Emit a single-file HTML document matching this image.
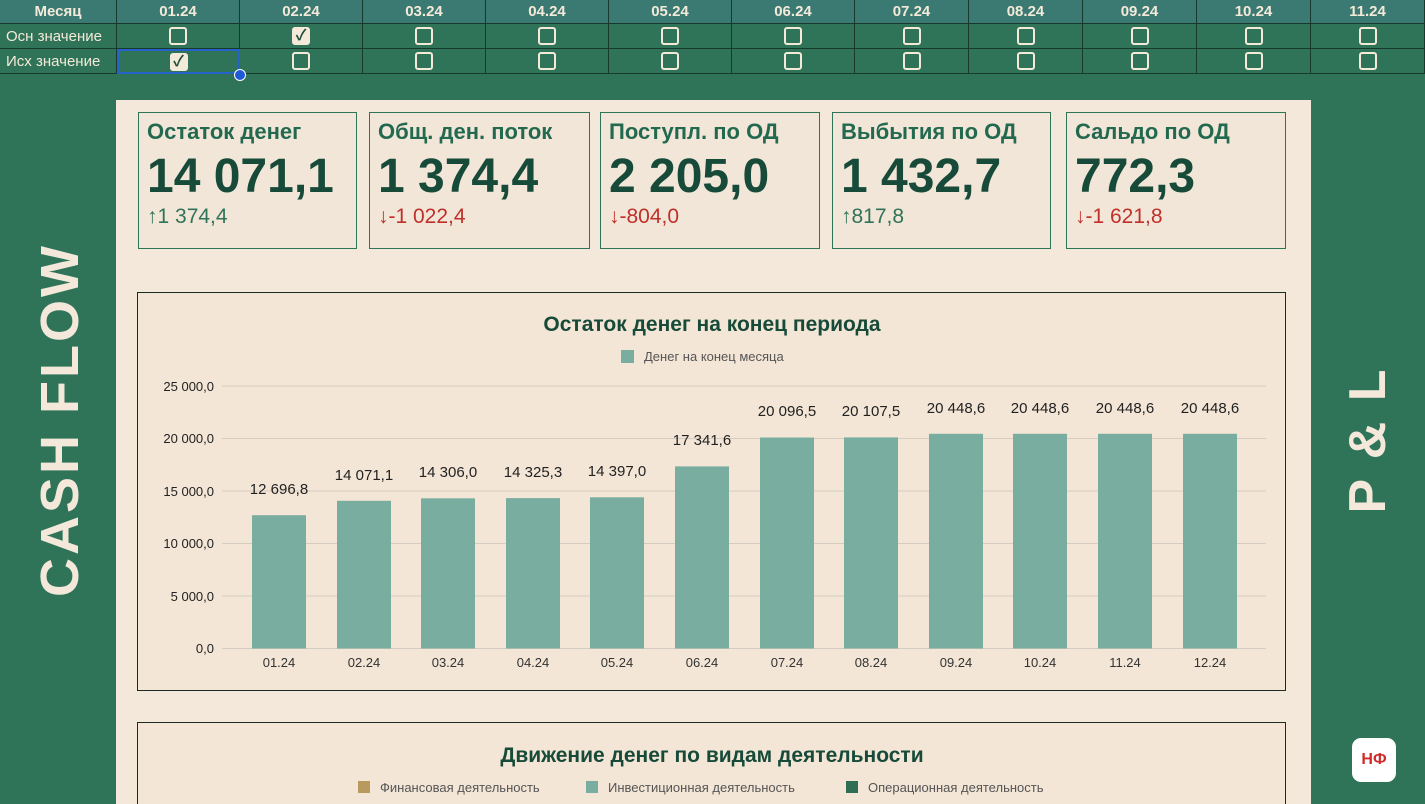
<!DOCTYPE html>
<html style="overflow:hidden"><head><meta charset="utf-8"><style>
*{margin:0;padding:0;box-sizing:border-box}
html,body{width:1425px;height:804px;overflow:hidden}
body{background:#2f7358;font-family:"Liberation Sans","Noto Sans CJK SC",sans-serif;position:relative}
.a{position:absolute}
.hdr{top:0;height:24px;background:#3b7a73;color:#f3ead9;font-weight:bold;font-size:15px;text-align:center;line-height:24px;border-right:1.5px solid #173a2c;border-bottom:1.5px solid #173a2c}
.cell{height:25px;border-right:1.5px solid #173a2c;border-bottom:1.5px solid #173a2c;color:#f3ead9;font-size:15px;line-height:25px}
.cb{position:absolute;left:50%;top:50%;width:18px;height:18px;margin:-9px 0 0 -9px;border:2px solid #f3ead9;border-radius:3px}
.cb.on{background:#f3ead9;color:#1f4a38;font-size:15px;line-height:14px;text-align:center;font-weight:bold}
.panel{left:116px;top:100px;width:1195px;height:704px;background:#f4e8da}
.card{border:1.5px solid #2f7358;background:#f2e6d8}
.card .t{position:absolute;left:8px;top:6px;font-size:22px;font-weight:bold;color:#22694f;white-space:nowrap}
.card .v{position:absolute;left:8px;top:36px;font-size:48px;font-weight:bold;color:#174a39;white-space:nowrap}
.card .d{position:absolute;left:8px;top:92px;font-size:21px;white-space:nowrap}
.up{color:#2f7358}.dn{color:#c0302a}
.box{border:1.5px solid #1c2a24;background:#f3e6d6}
</style></head><body>
<div class="a hdr" style="left:0;width:117px">Месяц</div>
<div class="a hdr" style="left:117px;width:123px">01.24</div>
<div class="a hdr" style="left:240px;width:123px">02.24</div>
<div class="a hdr" style="left:363px;width:123px">03.24</div>
<div class="a hdr" style="left:486px;width:123px">04.24</div>
<div class="a hdr" style="left:609px;width:123px">05.24</div>
<div class="a hdr" style="left:732px;width:123px">06.24</div>
<div class="a hdr" style="left:855px;width:114px">07.24</div>
<div class="a hdr" style="left:969px;width:114px">08.24</div>
<div class="a hdr" style="left:1083px;width:114px">09.24</div>
<div class="a hdr" style="left:1197px;width:114px">10.24</div>
<div class="a hdr" style="left:1311px;width:114px">11.24</div>

<div class="a cell" style="left:0;top:24px;width:117px;padding-left:6px">Осн значение</div>
<div class="a cell" style="left:0;top:49px;width:117px;padding-left:6px">Исх значение</div>

<div class="a cell" style="left:117px;top:24px;width:123px"><div class="cb"></div></div>
<div class="a cell" style="left:240px;top:24px;width:123px"><div class="cb on">✓</div></div>
<div class="a cell" style="left:363px;top:24px;width:123px"><div class="cb"></div></div>
<div class="a cell" style="left:486px;top:24px;width:123px"><div class="cb"></div></div>
<div class="a cell" style="left:609px;top:24px;width:123px"><div class="cb"></div></div>
<div class="a cell" style="left:732px;top:24px;width:123px"><div class="cb"></div></div>
<div class="a cell" style="left:855px;top:24px;width:114px"><div class="cb"></div></div>
<div class="a cell" style="left:969px;top:24px;width:114px"><div class="cb"></div></div>
<div class="a cell" style="left:1083px;top:24px;width:114px"><div class="cb"></div></div>
<div class="a cell" style="left:1197px;top:24px;width:114px"><div class="cb"></div></div>
<div class="a cell" style="left:1311px;top:24px;width:114px"><div class="cb"></div></div>

<div class="a cell" style="left:117px;top:49px;width:123px;border:2px solid #2563c9"><div class="cb on">✓</div></div>
<div class="a cell" style="left:240px;top:49px;width:123px"><div class="cb"></div></div>
<div class="a cell" style="left:363px;top:49px;width:123px"><div class="cb"></div></div>
<div class="a cell" style="left:486px;top:49px;width:123px"><div class="cb"></div></div>
<div class="a cell" style="left:609px;top:49px;width:123px"><div class="cb"></div></div>
<div class="a cell" style="left:732px;top:49px;width:123px"><div class="cb"></div></div>
<div class="a cell" style="left:855px;top:49px;width:114px"><div class="cb"></div></div>
<div class="a cell" style="left:969px;top:49px;width:114px"><div class="cb"></div></div>
<div class="a cell" style="left:1083px;top:49px;width:114px"><div class="cb"></div></div>
<div class="a cell" style="left:1197px;top:49px;width:114px"><div class="cb"></div></div>
<div class="a cell" style="left:1311px;top:49px;width:114px"><div class="cb"></div></div>
<div class="a" style="left:234px;top:69px;width:12px;height:12px;border-radius:50%;background:#1f5ad6;border:1.5px solid #fff"></div>

<div class="a" style="left:60px;top:420px;transform:translate(-50%,-50%) rotate(-90deg);color:#f4e8da;font-weight:bold;font-size:54px;white-space:nowrap;letter-spacing:3px">CASH FLOW</div>
<div class="a" style="left:1368px;top:440px;transform:translate(-50%,-50%) rotate(-90deg);color:#f4e8da;font-weight:bold;font-size:52px;white-space:nowrap;letter-spacing:3px">P &amp; L</div>
<div class="a" style="left:1352px;top:738px;width:44px;height:44px;background:#fff;border-radius:9px;color:#d02a2a;font-weight:bold;font-size:16px;text-align:center;line-height:44px">НФ</div>

<div class="a panel"></div>

<div class="a card" style="left:138px;top:112px;width:219px;height:137px"><div class="t">Остаток денег</div><div class="v">14 071,1</div><div class="d up">↑1 374,4</div></div>
<div class="a card" style="left:369px;top:112px;width:221px;height:137px"><div class="t">Общ. ден. поток</div><div class="v">1 374,4</div><div class="d dn">↓-1 022,4</div></div>
<div class="a card" style="left:600px;top:112px;width:220px;height:137px"><div class="t">Поступл. по ОД</div><div class="v">2 205,0</div><div class="d dn">↓-804,0</div></div>
<div class="a card" style="left:832px;top:112px;width:219px;height:137px"><div class="t">Выбытия по ОД</div><div class="v">1 432,7</div><div class="d up">↑817,8</div></div>
<div class="a card" style="left:1066px;top:112px;width:220px;height:137px"><div class="t">Сальдо по ОД</div><div class="v">772,3</div><div class="d dn">↓-1 621,8</div></div>

<div class="a box" style="left:137px;top:292px;width:1149px;height:399px"></div>
<div class="a box" style="left:137px;top:722px;width:1149px;height:82px;border-bottom:none"></div>
<svg class="a" style="left:0;top:0" width="1425" height="804" font-family="Liberation Sans, sans-serif">
<text x="712" y="331" text-anchor="middle" font-size="21" font-weight="bold" fill="#174a39">Остаток денег на конец периода</text>
<rect x="621" y="350" width="13" height="13" fill="#79ada0"/>
<text x="644" y="361" font-size="13" fill="#555">Денег на конец месяца</text>
<g stroke="#d4ccc0" stroke-width="1">
<line x1="222" x2="1266" y1="386" y2="386"/><line x1="222" x2="1266" y1="438.5" y2="438.5"/><line x1="222" x2="1266" y1="491" y2="491"/><line x1="222" x2="1266" y1="543.5" y2="543.5"/><line x1="222" x2="1266" y1="596" y2="596"/><line x1="222" x2="1266" y1="648.5" y2="648.5"/>
</g>
<g font-size="13" fill="#222" text-anchor="end">
<text x="214" y="391">25 000,0</text><text x="214" y="443">20 000,0</text><text x="214" y="496">15 000,0</text><text x="214" y="548">10 000,0</text><text x="214" y="601">5 000,0</text><text x="214" y="653">0,0</text>
</g>
<g fill="#79ada0">
<rect x="252" y="515.2" width="54" height="133.3"/>
<rect x="337" y="500.8" width="54" height="147.7"/>
<rect x="421" y="498.3" width="54" height="150.2"/>
<rect x="506" y="498.1" width="54" height="150.4"/>
<rect x="590" y="497.3" width="54" height="151.2"/>
<rect x="675" y="466.4" width="54" height="182.1"/>
<rect x="760" y="437.5" width="54" height="211"/>
<rect x="844" y="437.4" width="54" height="211.1"/>
<rect x="929" y="433.8" width="54" height="214.7"/>
<rect x="1013" y="433.8" width="54" height="214.7"/>
<rect x="1098" y="433.8" width="54" height="214.7"/>
<rect x="1183" y="433.8" width="54" height="214.7"/>
</g>
<g font-size="15" fill="#222" text-anchor="middle">
<text x="279" y="494">12 696,8</text><text x="364" y="480">14 071,1</text><text x="448" y="477">14 306,0</text><text x="533" y="477">14 325,3</text><text x="617" y="476">14 397,0</text><text x="702" y="445">17 341,6</text><text x="787" y="416">20 096,5</text><text x="871" y="416">20 107,5</text><text x="956" y="413">20 448,6</text><text x="1040" y="413">20 448,6</text><text x="1125" y="413">20 448,6</text><text x="1210" y="413">20 448,6</text>
</g>
<g font-size="13" fill="#333" text-anchor="middle">
<text x="279" y="667">01.24</text><text x="364" y="667">02.24</text><text x="448" y="667">03.24</text><text x="533" y="667">04.24</text><text x="617" y="667">05.24</text><text x="702" y="667">06.24</text><text x="787" y="667">07.24</text><text x="871" y="667">08.24</text><text x="956" y="667">09.24</text><text x="1040" y="667">10.24</text><text x="1125" y="667">11.24</text><text x="1210" y="667">12.24</text>
</g>
<text x="712" y="762" text-anchor="middle" font-size="21" font-weight="bold" fill="#174a39">Движение денег по видам деятельности</text>
<rect x="358" y="781" width="12" height="12" fill="#b89a5e"/><text x="380" y="792" font-size="13" fill="#555">Финансовая деятельность</text>
<rect x="586" y="781" width="12" height="12" fill="#79ada0"/><text x="608" y="792" font-size="13" fill="#555">Инвестиционная деятельность</text>
<rect x="846" y="781" width="12" height="12" fill="#2f6e55"/><text x="868" y="792" font-size="13" fill="#555">Операционная деятельность</text>
</svg>
</body></html>
